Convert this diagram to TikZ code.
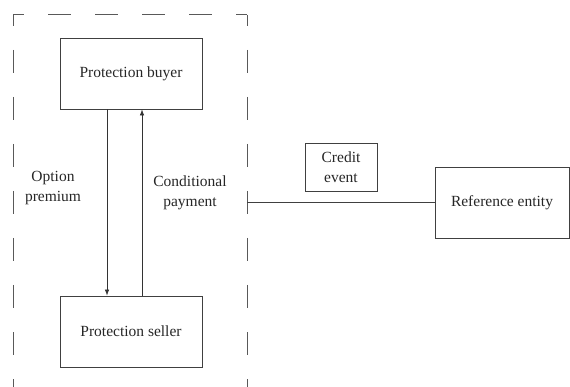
\documentclass[tikz,border=0pt]{standalone}
\usepackage{fontspec}
\setmainfont{Liberation Serif}
\usetikzlibrary{arrows.meta,calc}
\begin{document}
\begin{tikzpicture}[x=1pt,y=-1pt,
  every node/.style={font=\fontsize{15.5}{20}\selectfont, text=black!85},
  party/.style={draw=black!75, line width=0.8pt, minimum width=142pt, minimum height=71pt, inner sep=0pt},
  flow/.style={draw=black!80, line width=0.7pt, -{Latex[length=6pt,width=4.5pt]}},
  boundary/.style={draw=black!65, line width=1pt, dash pattern=on 23pt off 24pt, dash phase=12pt},
  label/.style={align=center, inner sep=0pt}]
  \useasboundingbox (0,0) rectangle (570,387);
  \begin{scope}
    \clip (0,0) rectangle (570,387);
    % dashed boundary, open at the bottom
    \draw[boundary] (13,15) -- (247,15);
    \draw[boundary] (13,15) -- (13,420);
    \draw[boundary] (247,15) -- (247,420);
    % parties
    \node[party] (buyer) at (131,73.5) {Protection buyer};
    \node[party] (seller) at (131,331.5) {Protection seller};
    \node[party, minimum width=134pt] (ref) at (502,202.5) {Reference entity};
    \node[draw=black!75, line width=0.8pt, minimum width=72pt, minimum height=48pt, inner sep=0pt, align=center] (credit) at (341,167) {Credit\\event};
    % payment flows
    \draw[flow] ($(buyer.south)+(-24,0)$) -- ($(seller.north)+(-24,0)$);
    \draw[flow] ($(seller.north)+(11,0)$) -- ($(buyer.south)+(11,0)$);
    \node[label] (prem) at (53,188) {Option\\premium};
    \node[label] (cond) at (190,193) {Conditional\\payment};
    % link to the reference entity
    \coordinate (edge) at (247,202.5);
    \draw[black!75, line width=0.8pt] (edge) -- (ref.west);
  \end{scope}
\end{tikzpicture}
\end{document}
